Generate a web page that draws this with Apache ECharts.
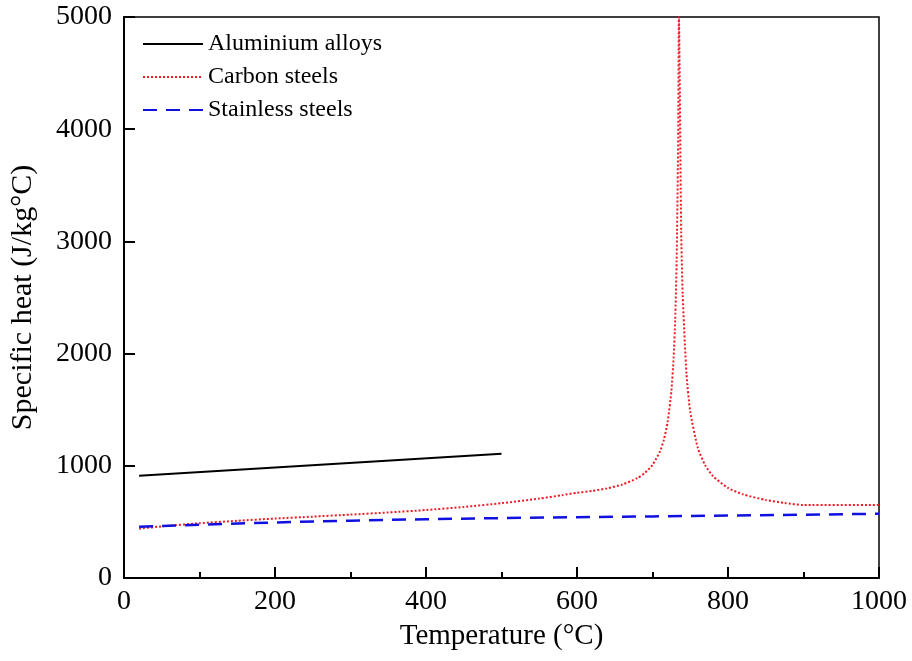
<!DOCTYPE html>
<html>
<head>
<meta charset="utf-8">
<script src="https://cdn.jsdelivr.net/npm/echarts@6/dist/echarts.min.js"></script>
<style>html,body{margin:0;padding:0;background:#fff}#c{width:912px;height:661px}</style>
</head>
<body>
<div id="c"></div>
<script>
var seriesNames = ['Aluminium alloys', 'Carbon steels', 'Stainless steels'];
var xTicks = [0, 200, 400, 600, 800, 1000];
var yTicks = [0, 1000, 2000, 3000, 4000, 5000];

var aluT  = [20, 500];
var aluCp = [911, 1108];

var carbonT  = [20, 50, 100, 150, 200, 250, 300, 350, 400, 450, 500, 550, 580, 600, 620, 640, 660, 680, 690, 700, 710, 715, 720, 725, 728, 730, 732, 734, 735, 738, 740, 745, 750, 760, 770, 780, 800, 820, 850, 875, 900, 1000];
var carbonCp = [440, 460, 488, 510, 530, 547, 565, 584, 606, 633, 667, 708, 738, 760, 776, 799, 833, 890, 937, 1008, 1130, 1231, 1388, 1666, 1966, 2291, 2833, 3917, 5000, 3091, 2525, 1818, 1483, 1160, 1002, 909, 803, 745, 695, 669, 650, 650];

var stainT  = [20, 100, 200, 300, 400, 500, 600, 700, 800, 900, 1000];
var stainCp = [456, 475, 495, 511, 524, 534, 542, 549, 556, 564, 573];

function pairs(a, b) { return a.map(function (v, i) { return [v, b[i]]; }); }

var serif = 'Liberation Serif';
var chart = echarts.init(document.getElementById('c'), null, {renderer: 'canvas'});
chart.setOption({
  animation: false,
  backgroundColor: '#fff',
  grid: {left: 123, right: 33, top: 17, bottom: 83, show: true, borderColor: '#000', borderWidth: 1.5, backgroundColor: 'transparent'},
  legend: {
    orient: 'vertical', left: 137, top: 27,
    itemWidth: 60, itemHeight: 14, itemGap: 9,
    itemStyle: {opacity: 0},
    textStyle: {fontFamily: serif, fontSize: 24, color: '#000', lineHeight: 24},
    data: seriesNames
  },
  xAxis: {
    type: 'value', min: 0, max: 1000, interval: 200,
    name: 'Temperature (°C)', nameLocation: 'middle', nameGap: 44,
    nameTextStyle: {fontFamily: serif, fontSize: 29, color: '#000'},
    axisLine: {show: true, lineStyle: {color: '#000', width: 2}},
    axisTick: {show: true, inside: true, length: 11, lineStyle: {color: '#000', width: 2}},
    minorTick: {show: true, splitNumber: 2, length: 6, lineStyle: {color: '#000', width: 2}},
    splitLine: {show: false},
    axisLabel: {fontFamily: serif, fontSize: 28, color: '#000', margin: 10,
      formatter: function (v) { return xTicks.indexOf(v) >= 0 ? String(v) : ''; }}
  },
  yAxis: {
    type: 'value', min: 0, max: 5000, interval: 1000,
    name: 'Specific heat (J/kg°C)', nameLocation: 'middle', nameGap: 86,
    nameTextStyle: {fontFamily: serif, fontSize: 30, color: '#000'},
    axisLine: {show: true, lineStyle: {color: '#000', width: 2}},
    axisTick: {show: true, inside: true, length: 11, lineStyle: {color: '#000', width: 2}},
    splitLine: {show: false},
    axisLabel: {fontFamily: serif, fontSize: 28, color: '#000', margin: 12,
      formatter: function (v) { return yTicks.indexOf(v) >= 0 ? String(v) : ''; }}
  },
  series: [
    {name: seriesNames[0], type: 'line', symbol: 'none', data: pairs(aluT, aluCp),
      lineStyle: {color: '#000', width: 2, type: 'solid'}, itemStyle: {color: '#000'}},
    {name: seriesNames[1], type: 'line', symbol: 'none', data: pairs(carbonT, carbonCp), smooth: 0.2,
      lineStyle: {color: '#ee1c24', width: 2, type: [2, 2]}, itemStyle: {color: '#ee1c24'}},
    {name: seriesNames[2], type: 'line', symbol: 'none', data: pairs(stainT, stainCp),
      lineStyle: {color: '#1010e0', width: 2.5, type: [14, 9]}, itemStyle: {color: '#1010e0'}}
  ]
});
</script>
</body>
</html>
